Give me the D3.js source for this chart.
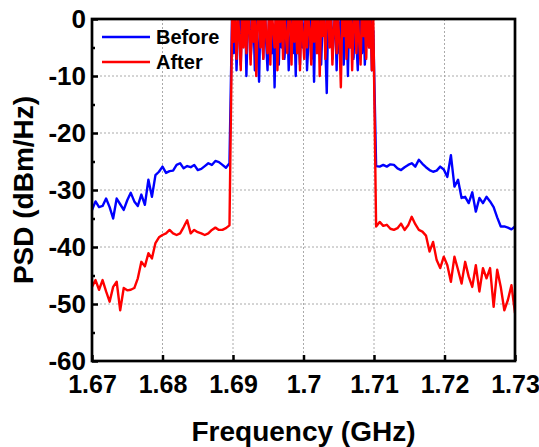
<!DOCTYPE html>
<html>
<head>
<meta charset="utf-8">
<script src="https://cdn.jsdelivr.net/npm/d3@7"></script>
<style>
  body { margin: 0; background: #fff; }
  text { font-family: "Liberation Sans", Arial, sans-serif; font-weight: bold; fill: #000; }
</style>
</head>
<body>
<div id="chart-area"></div>
<script>
// PSD values (dBm/Hz)
// left of the band: 1.6700 .. 1.6895 GHz, every 0.5 MHz
var leftBefore = [-33.5, -32.0, -33.0, -32.8, -31.5, -33.0, -35.0, -31.5, -32.5, -33.5,
                  -31.8, -30.5, -32.0, -32.8, -30.8, -32.6, -28.2, -31.2, -27.4, -26.8,
                  -25.9, -27.0, -26.7, -26.6, -25.6, -25.3, -26.2, -25.8, -26.0, -25.6,
                  -26.5, -26.3, -25.8, -25.3, -25.6, -24.9, -25.1, -25.6, -26.1, -25.3];
var leftAfter  = [-47.0, -45.8, -47.5, -45.8, -47.8, -49.6, -47.0, -46.1, -51.1, -47.2,
                  -47.6, -47.5, -47.2, -45.5, -42.6, -43.4, -41.1, -42.0, -39.3, -38.3,
                  -37.9, -37.6, -37.0, -37.6, -37.9, -37.6, -36.5, -35.3, -37.6, -37.0,
                  -37.4, -37.6, -37.9, -37.6, -37.0, -36.6, -37.0, -37.0, -36.7, -36.2];
// in band: 1.6899 .. 1.7099 GHz, every 0.2 MHz (tops go past 0)
var bandBefore = [3, -6, 1, -9, -2, 2, -8, 0, -4, 3,
                  -10, -1, 2, -7, -3, 1, -9, 2, -5, -11,
                  1, -2, -7, 3, -4, -9, 0, 2, -6, -1,
                  -12, 2, -3, -8, 1, -5, 3, -7, -2, 1,
                  -9, -4, 2, -6, 0, -10, 3, -3, -8, 1,
                  -5, -1, 2, -9, -4, 3, -7, 0, -11, 1,
                  -3, -6, 2, -8, -1, 3, -5, -13, 1, -4,
                  2, -7, -2, 1, -9, 3, -6, -1, 2, -8,
                  -3, 1, -10, 2, -5, 0, -7, 3, -4, -9,
                  1, -2, -6, 2, -8, -3, 1, -5, 2, -9, -2];
var bandAfter  = [2, -4, 0, -7, 1, -3, -9, 2, -5, 0,
                  -6, 3, -2, -8, 1, -4, 2, -10, -1, 2,
                  -5, 0, -7, 3, -3, -6, 1, -8, 2, -2,
                  -5, 3, -9, 0, -4, 2, -7, 1, -3, -6,
                  2, -1, -8, 3, -4, 0, -6, 2, -9, 1,
                  -3, -7, 2, -5, 0, -2, -8, 3, -4, 1,
                  -6, 2, -10, 0, -3, 2, -7, -1, 3, -5,
                  1, -8, -2, 2, -6, 0, -4, -12, 1, -3,
                  2, -7, 0, -5, 3, -9, -1, 2, -6, 1,
                  -4, -8, 2, -3, 0, -7, 3, -5, 1, -9, 0];
// right of the band: 1.7103 .. 1.7300 GHz
var rightBefore = [-25.8, -25.9, -25.6, -25.9, -25.5, -25.6, -26.2, -26.5, -26.0, -25.6,
                   -25.3, -25.9, -24.7, -25.4, -26.0, -26.5, -26.8, -26.6, -25.9, -26.4,
                   -27.7, -23.9, -29.4, -28.2, -31.4, -31.2, -32.3, -30.4, -33.8, -31.4,
                   -32.3, -31.2, -32.0, -33.0, -34.8, -36.4, -36.4, -36.6, -36.9, -36.4];
var rightAfter  = [-36.4, -35.6, -36.3, -36.1, -36.8, -37.0, -36.7, -35.9, -37.0, -36.2,
                   -34.7, -36.0, -37.0, -37.3, -38.0, -40.8, -39.1, -42.3, -43.7, -41.7,
                   -43.2, -46.1, -41.7, -44.0, -46.4, -42.6, -45.2, -47.0, -43.2, -47.8,
                   -43.7, -45.5, -43.7, -50.5, -44.0, -47.0, -51.1, -49.3, -46.7, -51.6];

var seriesNames = ["Before", "After"];
var seriesColors = ["#0000ff", "#ff0000"];
var xTicks = [1.67, 1.68, 1.69, 1.7, 1.71, 1.72, 1.73];
var yTicks = [0, -10, -20, -30, -40, -50, -60];
var yMinor = [-5, -15, -25, -35, -45, -55];

var margin = { left: 92, right: 24, top: 19, bottom: 86 };
var width = 539 - margin.left - margin.right;
var height = 447 - margin.top - margin.bottom;

var svg = d3.select("#chart-area").append("svg")
  .attr("width", 539)
  .attr("height", 447);
var g = svg.append("g")
  .attr("transform", "translate(" + margin.left + "," + margin.top + ")");

var x = d3.scaleLinear().domain([1.67, 1.73]).range([0, width]);
var y = d3.scaleLinear().domain([-60, 0]).range([height, 0]);

// frequency grid for each piece
var leftF = leftBefore.map(function(d, i) { return 1.67 + i * 0.0005; });
var bandF = bandBefore.map(function(d, i) { return 1.6899 + i * 0.0002; });
var rightF = rightBefore.map(function(d, i) { return 1.7103 + i * (1.73 - 1.7103) / (rightBefore.length - 1); });
var freq = leftF.concat(bandF, rightF);

var series = [
  leftBefore.concat(bandBefore, rightBefore),
  leftAfter.concat(bandAfter, rightAfter)
].map(function(vals) {
  return vals.map(function(v, i) { return { f: freq[i], v: v }; });
});

// grid
g.append("g").selectAll("line")
  .data(xTicks.slice(1, -1)).enter().append("line")
  .attr("x1", function(d) { return x(d); }).attr("x2", function(d) { return x(d); })
  .attr("y1", 0).attr("y2", height)
  .attr("stroke", "#aaa").attr("stroke-width", 1).attr("stroke-dasharray", "2,2");
g.append("g").selectAll("line")
  .data(yTicks.slice(1, -1)).enter().append("line")
  .attr("y1", function(d) { return y(d); }).attr("y2", function(d) { return y(d); })
  .attr("x1", 0).attr("x2", width)
  .attr("stroke", "#aaa").attr("stroke-width", 1).attr("stroke-dasharray", "2,2");

// lines
svg.append("defs").append("clipPath").attr("id", "clip")
  .append("rect").attr("width", width).attr("height", height);

var line = d3.line()
  .x(function(d) { return x(d.f); })
  .y(function(d) { return y(d.v); });

g.append("g").attr("clip-path", "url(#clip)")
  .selectAll("path").data(series).enter().append("path")
  .attr("d", line)
  .attr("fill", "none")
  .attr("stroke", function(d, i) { return seriesColors[i]; })
  .attr("stroke-width", 2.4)
  .attr("stroke-linejoin", "round");

// axes
var xAxis = d3.axisBottom(x).tickValues(xTicks).tickSize(-6).tickPadding(14)
  .tickFormat(function(d) { return String(d); });
var xg = g.append("g").attr("transform", "translate(0," + height + ")").call(xAxis);
xg.select(".domain").remove();
xg.selectAll("line").attr("stroke", "#000").attr("stroke-width", 2.5);
xg.selectAll("text").style("font-size", "25px").style("font-family", null);

var yAxis = d3.axisLeft(y).tickValues(yTicks).tickSize(-6).tickPadding(6)
  .tickFormat(function(d) { return String(d); });
var yg = g.append("g").call(yAxis);
yg.select(".domain").remove();
yg.selectAll("line").attr("stroke", "#000").attr("stroke-width", 2.5);
yg.selectAll("text").style("font-size", "26px").style("font-family", null);

var ym = g.append("g").call(d3.axisLeft(y).tickValues(yMinor).tickSize(-3).tickFormat(""));
ym.select(".domain").remove();
ym.selectAll("line").attr("stroke", "#000").attr("stroke-width", 2.5);

// frame
g.append("rect")
  .attr("width", width).attr("height", height)
  .attr("fill", "none").attr("stroke", "#000").attr("stroke-width", 2.7);

// axis titles
svg.append("text")
  .attr("x", margin.left + width / 2)
  .attr("y", 441)
  .attr("text-anchor", "middle")
  .style("font-size", "28px")
  .text("Frequency (GHz)");
svg.append("text")
  .attr("transform", "translate(33," + (margin.top + height / 2) + ") rotate(-90)")
  .attr("text-anchor", "middle")
  .style("font-size", "28px")
  .text("PSD (dBm/Hz)");

// legend
var legend = g.append("g").selectAll("g")
  .data(seriesNames).enter().append("g")
  .attr("transform", function(d, i) { return "translate(10," + (18 + i * 25) + ")"; });
legend.append("line")
  .attr("x1", 0).attr("x2", 48)
  .attr("stroke", function(d, i) { return seriesColors[i]; })
  .attr("stroke-width", 2.5);
legend.append("text")
  .attr("x", 54).attr("y", 7)
  .style("font-size", "20px")
  .text(function(d) { return d; });
</script>
</body>
</html>
